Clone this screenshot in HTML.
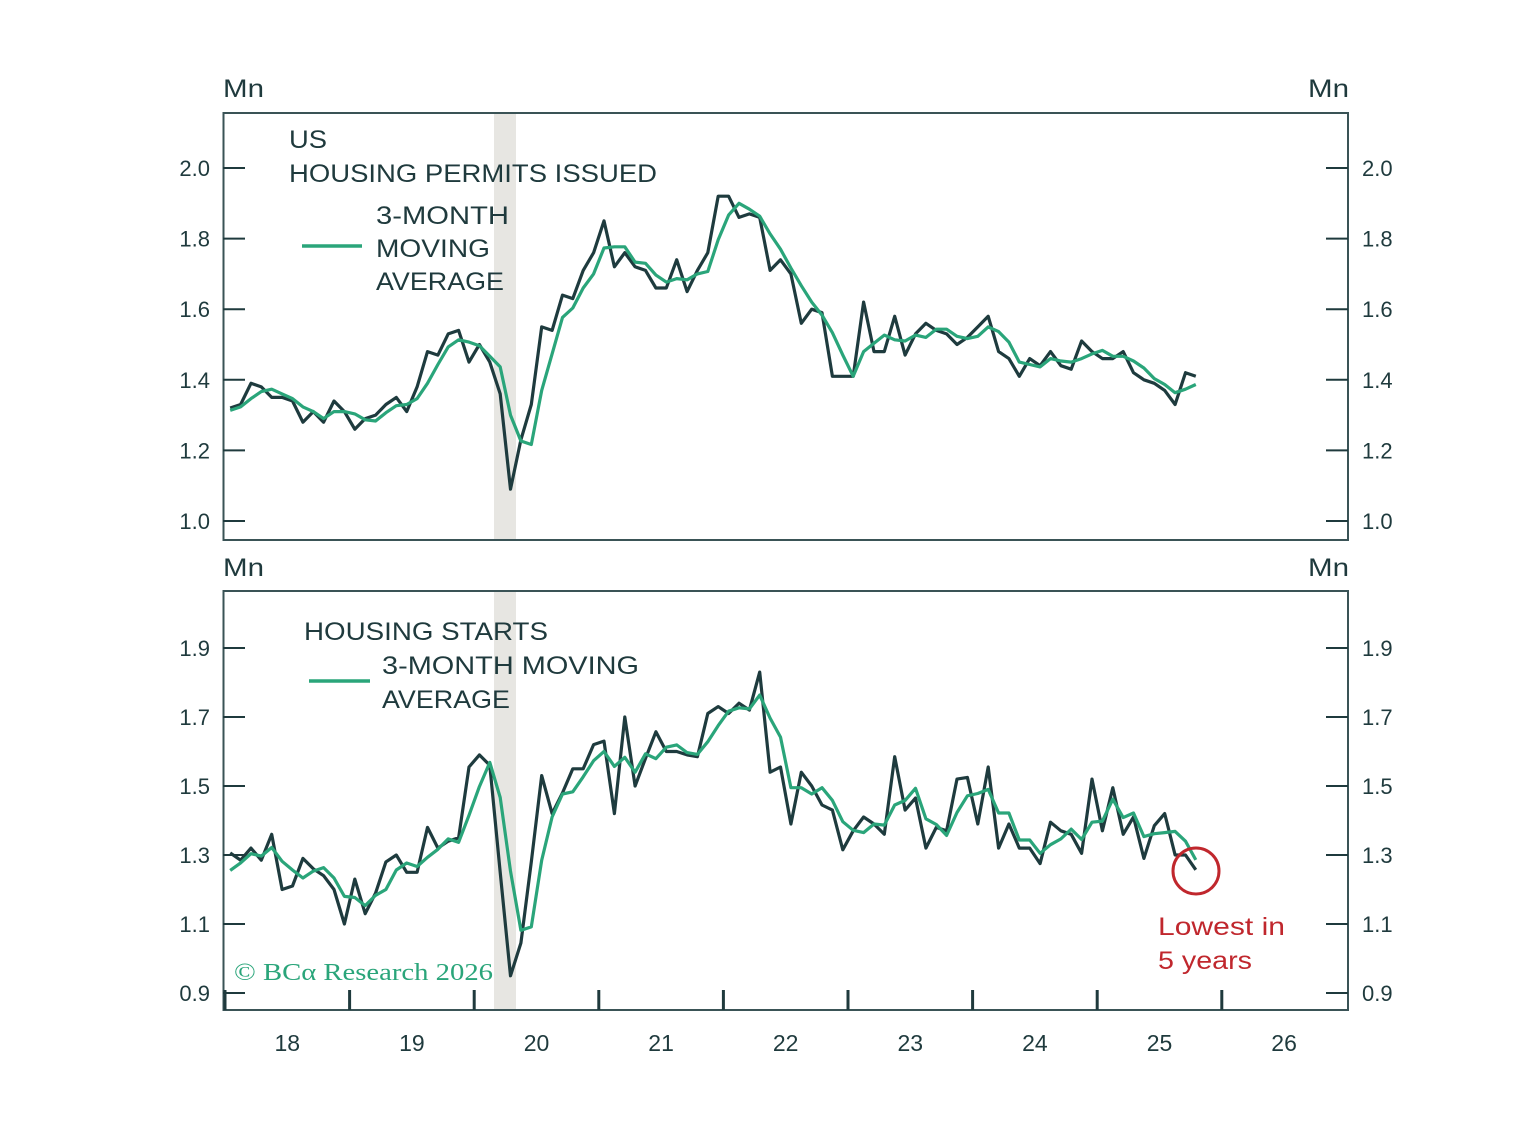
<!DOCTYPE html>
<html><head><meta charset="utf-8"><style>
html,body{margin:0;padding:0;background:#fff;}
svg{display:block;font-family:"Liberation Sans",sans-serif;}
</style></head><body>
<svg id="chart" width="1537" height="1144" viewBox="0 0 1537 1144" xmlns="http://www.w3.org/2000/svg">
<rect x="0" y="0" width="1537" height="1144" fill="#fff"/>
</svg>
<script>
// ---- data (monthly, starting Jan 2018) ----
const permits = [1.32,1.33,1.39,1.38,1.35,1.35,1.34,1.28,1.31,1.28,1.34,1.31,
1.26,1.29,1.30,1.33,1.35,1.31,1.38,1.48,1.47,1.53,1.54,1.45,
1.50,1.45,1.36,1.09,1.23,1.33,1.55,1.54,1.64,1.63,1.71,1.76,
1.85,1.72,1.76,1.72,1.71,1.66,1.66,1.74,1.65,1.71,1.76,1.92,1.92,1.86,1.87,1.86,1.71,1.74,1.70,1.56,1.60,1.59,1.41,1.41,1.41,1.62,1.48,1.48,1.58,1.47,1.53,1.56,1.54,1.53,1.50,1.52,1.55,1.58,1.48,1.46,1.41,1.46,1.44,1.48,1.44,1.43,1.51,1.48,1.46,1.46,1.48,1.42,1.40,1.39,1.37,1.33,1.42,1.41];
const starts = [1.306,1.285,1.32,1.285,1.36,1.20,1.21,1.29,1.26,1.24,1.20,1.10,1.23,1.13,1.19,1.28,1.30,1.25,1.25,1.38,1.32,1.34,1.35,1.555,1.59,1.56,1.25,0.95,1.045,1.28,1.53,1.42,1.48,1.55,1.55,1.62,1.63,1.42,1.70,1.50,
1.58,1.657,1.60,1.60,1.59,1.585,1.71,1.73,1.71,1.74,1.72,1.83,1.54,1.555,1.39,1.54,1.50,1.445,1.43,1.315,1.37,1.41,1.39,1.36,1.585,1.43,1.465,1.32,1.38,1.37,1.52,1.525,1.39,1.555,1.32,1.39,1.32,1.32,1.275,1.395,1.37,1.36,1.305,1.52,1.37,1.495,1.36,1.41,1.29,1.385,1.42,1.30,1.30,1.257];
const startsPrior = [1.22,1.24];
const permitsPrior = [1.30,1.32];
const topTicks = [1.0,1.2,1.4,1.6,1.8,2.0];
const botTicks = [0.9,1.1,1.3,1.5,1.7,1.9];
const yearLabels = ["18","19","20","21","22","23","24","25","26"];

const NS="http://www.w3.org/2000/svg";
const svg=document.getElementById('chart');
function mk(tag,attrs,parent){const e=document.createElementNS(NS,tag);for(const k in attrs)e.setAttribute(k,attrs[k]);(parent||svg).appendChild(e);return e;}
const X0=225, YEARW=124.6, MW=YEARW/12;
function xM(i){return X0+(i+0.5)*MW;}
function xYear(k){return X0+k*YEARW;}
function yTop(v){return 168+(2.0-v)*353;}
function yBot(v){return 648+(1.9-v)*345;}
function ma(arr,prior){const a=prior.concat(arr);return arr.map((v,i)=>(a[i]+a[i+1]+a[i+2])/3);}
const dark="#1e3b3e", green="#2aa57a", txt="#1f3a3d";

const r1=mk('rect',{x:494,y:114,width:22,height:425,fill:"#e7e6e2"});


const r2=mk('rect',{x:494,y:592,width:22,height:417,fill:"#e7e6e2"});



function panel(top,bottom,ticks,yf,name){
  const f=mk('rect',{x:223.5,y:top,width:1124.5,height:bottom-top,fill:"none",stroke:"#3a5356","stroke-width":2});
  
  
  ticks.forEach(t=>{
    const y=yf(t);
    const l=mk('line',{x1:223,x2:245,y1:y,y2:y,stroke:txt,"stroke-width":2});
    
    
    const r=mk('line',{x1:1326,x2:1348,y1:y,y2:y,stroke:txt,"stroke-width":2});
    
    
    const a=mk('text',{x:210,y:y+8,"text-anchor":"end","font-size":22,fill:txt});a.textContent=t.toFixed(1);
    
    
    const b=mk('text',{x:1362,y:y+8,"font-size":22,fill:txt});b.textContent=t.toFixed(1);
    
    
  });
}
panel(113,540,topTicks,yTop,'permits-panel');
panel(591,1010,botTicks,yBot,'starts-panel');

function line(arr,yf,color,name){
  const d=arr.map((v,i)=>(i?'L':'M')+xM(i).toFixed(1)+','+yf(v).toFixed(1)).join('');
  const p=mk('path',{d:d,fill:"none",stroke:color,"stroke-width":3.2,"stroke-linejoin":"round"});
  
  
}
line(permits,yTop,dark,'permits-line');
line(ma(permits,permitsPrior),yTop,green,'permits-3m-ma-line');
line(starts,yBot,dark,'starts-line');
line(ma(starts,startsPrior),yBot,green,'starts-3m-ma-line');

for(let k=0;k<9;k++){
  const x=xYear(k);
  const t=mk('line',{x1:x,x2:x,y1:990,y2:1010,stroke:txt,"stroke-width":3});
  
  
  const lb=mk('text',{x:x+YEARW/2,y:1051,"text-anchor":"middle","font-size":23,fill:txt});
  lb.textContent=yearLabels[k];
  
  
}

function text(x,y,s,size,color,name,len,extra){
  const t=mk('text',Object.assign({x:x,y:y,"font-size":size,fill:color},len?{textLength:len,lengthAdjust:"spacingAndGlyphs"}:{},extra||{}));
  t.textContent=s;
  
  
  return t;
}
text(223,97,"Mn",25,txt,'permits-left-unit',41);
text(1308,97,"Mn",25,txt,'permits-right-unit',41);
text(223,576,"Mn",25,txt,'starts-left-unit',41);
text(1308,576,"Mn",25,txt,'starts-right-unit',41);
text(289,148,"US",25,txt,'permits-title-us',38);
text(289,182,"HOUSING PERMITS ISSUED",25,txt,'permits-title',368);
text(376,224,"3-MONTH",25,txt,'permits-legend-label-1',133);
text(376,257,"MOVING",25,txt,'permits-legend-label-2',114);
text(376,290,"AVERAGE",25,txt,'permits-legend-label-3',128);
const lg1=mk('line',{x1:302,x2:362,y1:246,y2:246,stroke:green,"stroke-width":3.5});


text(304,640,"HOUSING STARTS",25,txt,'starts-title',244);
text(382,674,"3-MONTH MOVING",25,txt,'starts-legend-label-1',257);
text(382,708,"AVERAGE",25,txt,'starts-legend-label-2',128);
const lg2=mk('line',{x1:309,x2:370,y1:681,y2:681,stroke:green,"stroke-width":3.5});


text(234,980,"© BCα Research 2026",24,green,'copyright',259,{"font-family":"Liberation Serif, serif"});
const c=mk('circle',{cx:1196,cy:871,r:23,fill:"none",stroke:"#c0272d","stroke-width":3});


text(1158,935,"Lowest in",25,"#c0272d",'lowest-annotation-1',127);
text(1158,969,"5 years",25,"#c0272d",'lowest-annotation-2',94);
</script>
</body></html>
